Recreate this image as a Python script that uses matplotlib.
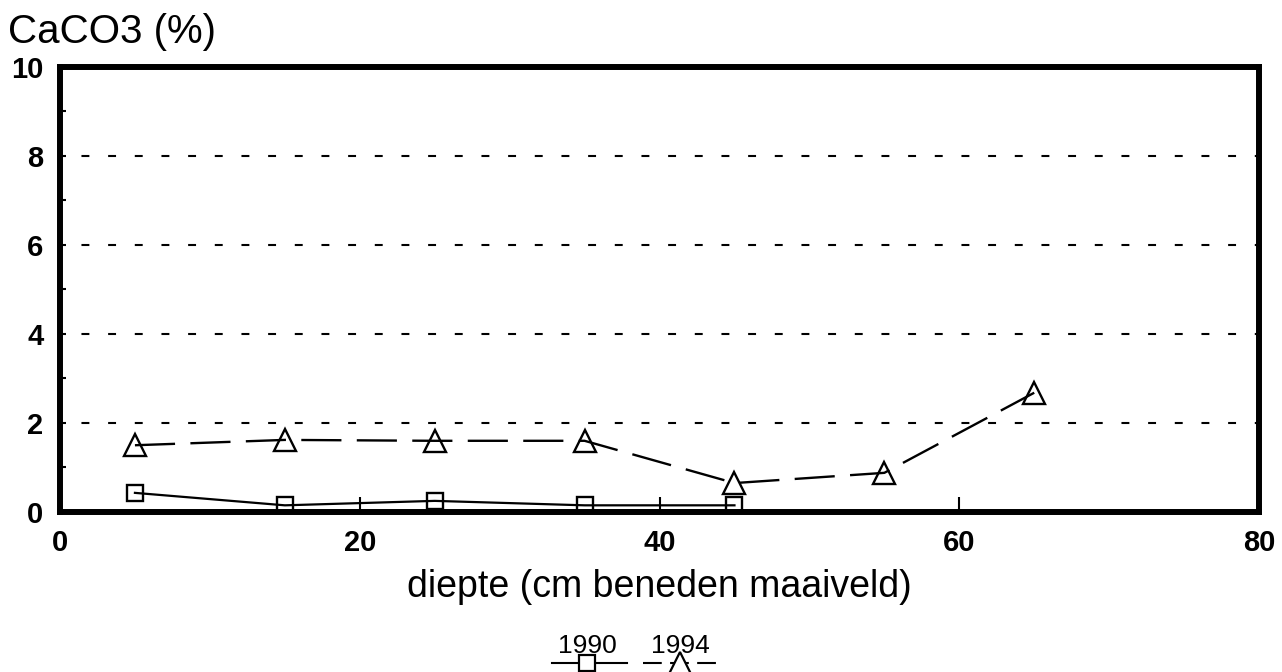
import matplotlib
matplotlib.use("Agg")
import matplotlib.pyplot as plt
from matplotlib.lines import Line2D

plt.rcParams['font.family'] = ['Liberation Sans', 'DejaVu Sans']

# CaCO3 content per depth layer (cm below surface)
depth = [5, 15, 25, 35, 45, 55, 65]
caco3_1990 = [0.43, 0.15, 0.25, 0.15, 0.15]
caco3_1994 = [1.5, 1.62, 1.6, 1.6, 0.65, 0.88, 2.68]
years = ["1990", "1994"]

x_ticks = [0, 20, 40, 60, 80]
y_ticks = [0, 2, 4, 6, 8, 10]

fig = plt.figure(figsize=(12.82, 6.72), dpi=100)
ax = fig.add_axes([0.0468, 0.2381, 0.9353, 0.6622])

# dashed grid at the even percentages
for yv in y_ticks[1:-1]:
    ax.axhline(yv, color='black', lw=1.5, ls=(2.5, (3.8, 9)), zorder=1)

ax.plot(depth[:len(caco3_1990)], caco3_1990, color='black', lw=1.6,
        marker='s', ms=12, mfc='none', mec='black', mew=1.7, zorder=3)
ax.plot(depth, caco3_1994, color='black', lw=1.7, ls=(0, (17, 6.5)),
        marker='^', ms=16.5, mfc='none', mec='black', mew=1.7, zorder=3)

ax.set_xlim(0, 80)
ax.set_ylim(0, 10)
ax.set_xticks(x_ticks)
ax.set_yticks(y_ticks)
ax.set_yticks([1, 3, 5, 7, 9], minor=True)

for s in ax.spines.values():
    s.set_linewidth(4.3)

ax.tick_params(axis='x', direction='in', length=11, width=1.5, pad=12,
               labelsize=21)
ax.tick_params(axis='y', direction='in', length=4, width=1.5, pad=12,
               labelsize=21)
ax.tick_params(axis='y', which='minor', direction='in', length=4, width=1.5)
for lab in ax.get_xticklabels() + ax.get_yticklabels():
    lab.set_fontweight('bold')

ax.set_xlabel("diepte (cm beneden maaiveld)", fontsize=27, labelpad=9)
fig.text(0.006, 0.936, "CaCO3 (%)", fontsize=29, ha='left', va='baseline')

# legend: year above a short line with its marker
leg = [
    (years[0], 0.4578, 0.4307, 0.4891, 's', 12, '-'),
    (years[1], 0.5304, 0.5016, 0.5616, '^', 16.5, (0, (9, 4))),
]
y_line = 1 - 663 / 672
for name, xc, x0, x1, mk, ms, ls in leg:
    fig.text(xc, 1 - 653 / 672, name, fontsize=19, ha='center',
             va='baseline')
    fig.add_artist(Line2D([x0, xc, x1], [y_line] * 3,
                          transform=fig.transFigure, color='black', lw=1.5,
                          ls=ls, marker=mk, ms=ms, markevery=[1],
                          mfc='white', mec='black', mew=1.6))

fig.savefig("out.png", dpi=100)
